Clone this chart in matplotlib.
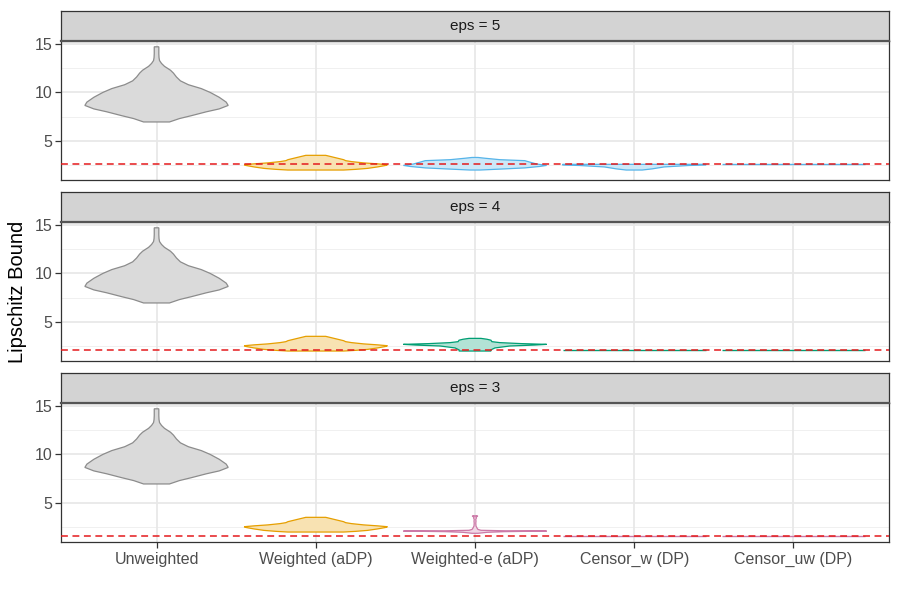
import numpy as np
import matplotlib
matplotlib.use("Agg")
import matplotlib.pyplot as plt

plt.rcParams['font.family'] = ['Liberation Sans', 'DejaVu Sans']

# ---------------- data ----------------
categories = ["Unweighted", "Weighted (aDP)", "Weighted-e (aDP)", "Censor_w (DP)", "Censor_uw (DP)"]
eps_values = [5, 4, 3]
bound_lines = [2.57, 2.08, 1.57]          # dashed reference level per eps

# violin profiles: value levels and relative density (0..72 scale)
unweighted_y = [6.95, 7.3, 7.6, 8.0, 8.3, 8.66, 9.0, 9.5, 10.0, 10.4, 10.8, 11.2, 11.6, 12.0, 12.3, 12.7, 13.0, 13.3, 13.6, 14.0, 14.72]
unweighted_w = [13, 23, 35, 50, 63, 72, 70, 63, 54, 45, 32, 24, 20, 17, 14, 8, 5, 3, 2.5, 2.3, 2.3]

weighted_y = [1.98, 2.05, 2.15, 2.3, 2.45, 2.53, 2.62, 2.72, 2.85, 2.95, 3.05, 3.2, 3.35, 3.5]
weighted_w = [28, 40, 52, 62, 70, 72, 62, 48, 36, 30, 28, 22, 16, 10]

weighted_e5_y = [1.98, 2.1, 2.2, 2.35, 2.46, 2.6, 2.8, 2.95, 3.05, 3.2, 3.28]
weighted_e5_w = [5, 30, 50, 65, 72, 62, 55, 50, 25, 10, 3]

weighted_e4_y = [1.98, 2.1, 2.3, 2.5, 2.6, 2.67, 2.75, 2.85, 2.95, 3.1, 3.2, 3.29]
weighted_e4_w = [16, 16, 20, 35, 60, 72, 46, 25, 17, 16, 12, 6]

weighted_e3_y = [1.85, 1.95, 2.02, 2.08, 2.11, 2.16, 2.25, 2.4, 2.6, 2.9, 3.1, 3.3, 3.45, 3.55, 3.62, 3.66]
weighted_e3_w = [3, 12, 30, 72, 30, 6, 3, 2, 1, 0.8, 1, 0.8, 1.5, 0.8, 2.5, 2.5]

censor_w5_y = [1.98, 2.1, 2.3, 2.45, 2.5, 2.57]
censor_w5_w = [8, 18, 30, 55, 72, 72]

fills = {"grey": "#DADADA", "orange": "#F8E2B2", "blue": "#CCE8F8", "green": "#B2E2D5", "pink": "#F0D7E5"}
edges = {"grey": "#8C8C8C", "orange": "#E69F00", "blue": "#56B4E9", "green": "#009E73", "pink": "#CC79A7"}
eps_color = {5: "blue", 4: "green", 3: "pink"}
we_profiles = {5: (weighted_e5_y, weighted_e5_w), 4: (weighted_e4_y, weighted_e4_w), 3: (weighted_e3_y, weighted_e3_w)}

# ---------------- figure ----------------
fig = plt.figure(figsize=(9, 6), dpi=100)
W, H = 900.0, 600.0
left_px, right_px = 61, 889
panels_px = [(11, 41, 180), (192, 222, 361), (373, 403, 542)]
ymin, ymax = 0.95, 15.32


def violin(ax, x, ys, ws, key):
    ys = np.asarray(ys, float)
    ws = np.asarray(ws, float) / 72.0 * 0.45
    xs = np.concatenate([x - ws, (x + ws)[::-1]])
    yy = np.concatenate([ys, ys[::-1]])
    ax.fill(xs, yy, facecolor=fills[key], edgecolor=edges[key], lw=0.9, zorder=3)


def flat_violin(ax, x, level, key):
    ax.plot([x - 0.45, x + 0.45], [level, level], color=edges[key], lw=1.0, zorder=3,
            solid_capstyle='butt')


for i, (eps, lvl) in enumerate(zip(eps_values, bound_lines)):
    s_top, p_top, p_bot = panels_px[i]
    ax = fig.add_axes([left_px / W, 1 - p_bot / H, (right_px - left_px) / W, (p_bot - p_top) / H])
    sax = fig.add_axes([left_px / W, 1 - p_top / H, (right_px - left_px) / W, (p_top - s_top) / H])

    # strip
    sax.set_facecolor("#D3D3D3")
    sax.set_xticks([]); sax.set_yticks([])
    for sp in sax.spines.values():
        sp.set_color("#333333"); sp.set_linewidth(0.9)
    sax.spines["bottom"].set_linewidth(1.6)
    sax.spines["bottom"].set_color("#555555")
    sax.text(0.5, 0.5, f"eps = {eps}", ha="center", va="center", fontsize=11,
             color="#1A1A1A", transform=sax.transAxes)

    # panel
    ax.set_xlim(-0.6, len(categories) - 0.4)
    ax.set_ylim(ymin, ymax)
    ax.set_facecolor("white")
    for yv in [2.5, 7.5, 12.5]:
        ax.axhline(yv, color="#F0F0F0", lw=0.7, zorder=0)
    for yv in [5, 10, 15]:
        ax.axhline(yv, color="#E8E8E8", lw=1.3, zorder=0)
    for xi in range(len(categories)):
        ax.axvline(xi, color="#E8E8E8", lw=1.3, zorder=0)
    for sp in ax.spines.values():
        sp.set_color("#333333"); sp.set_linewidth(0.9)
    ax.spines["top"].set_color("#555555")

    ax.set_yticks([5, 10, 15])
    ax.set_yticklabels(["5", "10", "15"])
    ax.tick_params(axis="y", length=4, width=0.9, color="#333333", labelsize=11.5,
                   labelcolor="#4D4D4D", pad=2)
    ax.set_xticks(range(len(categories)))
    if i == len(eps_values) - 1:
        ax.set_xticklabels(categories)
        ax.tick_params(axis="x", length=4, width=0.9, color="#333333", labelsize=11.5,
                       labelcolor="#4D4D4D", pad=3)
    else:
        ax.set_xticklabels([])
        ax.tick_params(axis="x", length=0)

    # violins
    violin(ax, 0, unweighted_y, unweighted_w, "grey")
    violin(ax, 1, weighted_y, weighted_w, "orange")
    ey, ew = we_profiles[eps]
    violin(ax, 2, ey, ew, eps_color[eps])
    if eps == 5:
        violin(ax, 3, censor_w5_y, censor_w5_w, "blue")
    else:
        flat_violin(ax, 3, lvl, eps_color[eps])
    flat_violin(ax, 4, lvl, eps_color[eps])

    ax.axhline(lvl, color="#E41A1C", lw=1.1, ls=(0, (4.5, 3)), zorder=5)

fig.text(18 / W, 1 - 291.5 / H, "Lipschitz Bound", rotation=90, ha="center", va="center",
         fontsize=14.5, color="black")

fig.savefig("out.png", dpi=100)
